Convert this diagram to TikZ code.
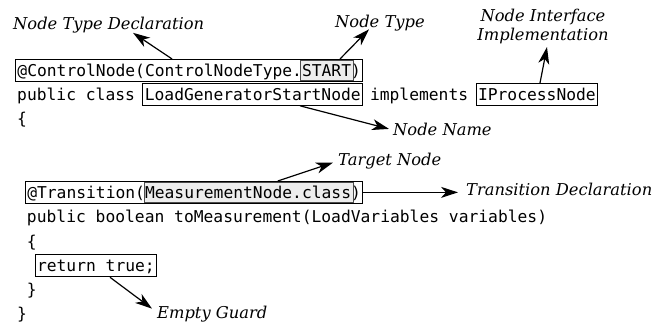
\documentclass[tikz,border=0pt]{standalone}
\usepackage{fontspec}
\setmainfont{DejaVu Serif}
\newfontfamily\codefont{DejaVu Sans Mono}
\usetikzlibrary{arrows.meta,calc}
\begin{document}
\begin{tikzpicture}[x=1pt,y=-1pt,
  code/.style={inner sep=0pt, anchor=base west, font=\codefont\fontsize{16.3}{19.5}\selectfont},
  codebox/.style={code, draw=black, line width=0.9pt, inner xsep=2pt, inner ysep=1.5pt, text height=15.1pt, text depth=3.85pt},
  graybox/.style={draw=black!70, fill=black!7, line width=0.8pt, inner sep=0pt},
  lbl/.style={inner sep=0pt, anchor=base west, font=\itshape\fontsize{16.3}{18.5}\selectfont},
  arr/.style={-{Stealth[length=17pt,width=11pt,inset=5pt]}, line width=1.2pt}
]
\useasboundingbox (0,0) rectangle (669,322);

% --- first block ---
\node[graybox, minimum width=52.5pt, minimum height=20pt] (startbox) at (327,70) {};
\node[codebox] (cn) at (15,76) {@ControlNode(ControlNodeType.START)};
\node[code] (pc) at (17,100) {public class};
\node[codebox] (lgsn) at (142.4,100) {LoadGeneratorStartNode};
\node[code] (impl) at (369.8,100) {implements};
\node[codebox] (ipn) at (475.6,100) {IProcessNode};
\node[code] (ob1) at (17,124) {\{};

% --- second block ---
\node[graybox, minimum width=209.3pt, minimum height=20pt] (mnbox) at (248.55,192.4) {};
\node[codebox] (tr) at (24.8,198) {@Transition(MeasurementNode.class)};
\node[code] (pb) at (26.8,222.5) {public boolean toMeasurement(LoadVariables variables)};
\node[code] (ob2) at (26.8,247) {\{};
\node[codebox] (ret) at (34.6,271.5) {return true;};
\node[code] (cb2) at (26.8,295.5) {\}};
\node[code] (cb1) at (17,319.5) {\}};

% --- labels ---
\node[lbl] (ntd) at (13,29) {Node Type Declaration};
\node[lbl] (nt) at (335,27) {Node Type};
\node[lbl, anchor=south, align=center] (nii) at (543,44) {Node Interface\\Implementation};
\node[lbl] (nn) at (393,135) {Node Name};
\node[lbl] (tn) at (338,165) {Target Node};
\node[lbl] (td) at (466,195) {Transition Declaration};
\node[lbl] (eg) at (157,318) {Empty Guard};

% --- arrows ---
\draw[arr] ([xshift=157pt]cn.north west) -- ([xshift=120pt]ntd.south west);
\draw[arr] ([xshift=325pt]cn.north west) -- ([xshift=34pt,yshift=1.5pt]nt.south west);
\draw[arr] ([xshift=64.4pt]ipn.north west) -- ([xshift=4pt,yshift=-3pt]nii.south);
\draw[arr] ([xshift=157.6pt]lgsn.south west) -- ([xshift=-4pt]nn.west);
\draw[arr] ([xshift=253pt]tr.north west) -- ([xshift=-5pt,yshift=-2pt]tn.west);
\draw[arr, shorten >=8pt] (tr.east) -- (tr.east -| td.west);
\draw[arr] ([xshift=75.4pt]ret.south west) -- ([xshift=-5pt,yshift=5pt]eg.west);
\end{tikzpicture}
\end{document}
